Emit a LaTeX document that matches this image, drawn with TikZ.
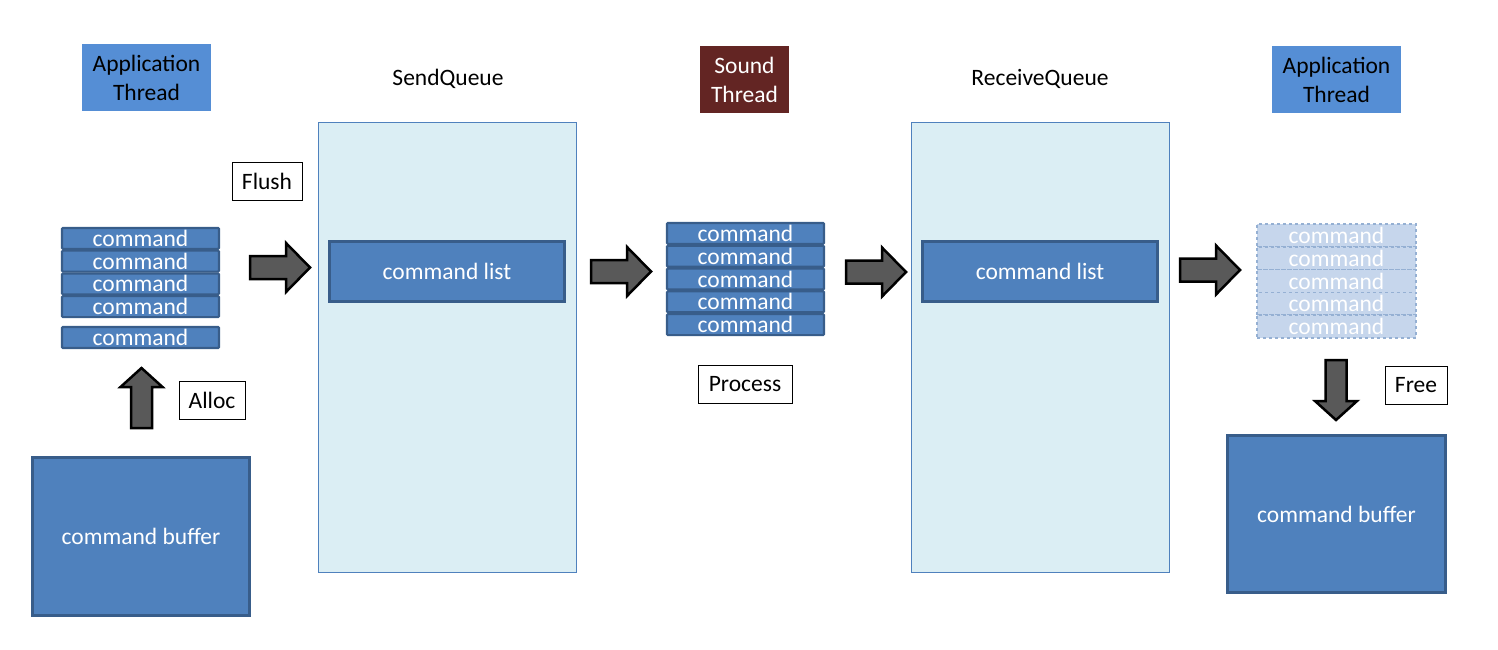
\documentclass[tikz,border=0pt]{standalone}
\usepackage{fontspec}
\newfontfamily\calfont{Carlito}
\definecolor{cmdblue}{HTML}{4F81BD}
\definecolor{cmdborder}{HTML}{385D8A}
\definecolor{appblue}{HTML}{558ED5}
\definecolor{soundred}{HTML}{632523}
\definecolor{queuefill}{HTML}{DBEEF4}
\definecolor{ghostfill}{HTML}{C6D6EC}
\definecolor{ghostline}{HTML}{95B0D3}
\definecolor{arrowgray}{HTML}{595959}
\tikzset{
  txt/.style={font=\calfont\fontsize{23.5}{29}\selectfont, align=center, inner sep=0pt},
  cmdrow/.style={txt, draw=cmdborder, line width=2.2pt, fill=cmdblue, text=white, minimum width=157pt, minimum height=21pt, rounded corners=1pt},
  ghostrow/.style={txt, draw=ghostline, line width=1.5pt, dashed, fill=ghostfill, text=white, minimum width=159pt, minimum height=22.8pt},
  bigbox/.style={txt, draw=cmdborder, line width=2.2pt, fill=cmdblue, text=white},
  queue/.style={draw=cmdblue, line width=0.8pt, fill=queuefill, minimum width=258pt, minimum height=450pt, inner sep=0pt},
  label/.style={txt, draw=black, line width=0.8pt, fill=white, minimum height=38pt, inner xsep=6pt},
  thread/.style={txt, minimum width=129pt, minimum height=67pt},
  arrowstyle/.style={draw=black, line width=2.5pt, fill=arrowgray, line join=miter},
  harrow/.pic={\path[arrowstyle] (-30,-11.5) -- (6,-11.5) -- (6,-24.5) -- (30,0) -- (6,24.5) -- (6,11.5) -- (-30,11.5) -- cycle;},
  varrow/.pic={\path[arrowstyle] (-30,-10.5) -- (11,-10.5) -- (11,-21) -- (30,0) -- (11,21) -- (11,10.5) -- (-30,10.5) -- cycle;},
}
\begin{document}
\begin{tikzpicture}[x=1pt,y=-1pt]
\useasboundingbox (0,0) rectangle (1498,649);

% threads
\node[thread, fill=appblue, text=black] (app1) at (146.5,77.5) {Application\\Thread};
\node[thread, fill=soundred, text=white, minimum width=89pt] (snd) at (744.5,79.5) {Sound\\Thread};
\node[thread, fill=appblue, text=black] (app2) at (1336.5,79.5) {Application\\Thread};

% queue labels
\node[txt] (sql) at (448,79) {SendQueue};
\node[txt] (rql) at (1040,79) {ReceiveQueue};

% queues
\node[queue] (sq) at (447,347) {};
\node[queue] (rq) at (1040,347) {};
\node[bigbox, minimum width=235pt, minimum height=60pt] (sl) at (447,271.5) {command list};
\node[bigbox, minimum width=235pt, minimum height=60pt] (rl) at (1040,271.5) {command list};

% left stack
\node[cmdrow] (l1) at (140.5,238.4) {command};
\node[cmdrow] (l2) at (140.5,261.1) {command};
\node[cmdrow] (l3) at (140.5,283.9) {command};
\node[cmdrow] (l4) at (140.5,306.6) {command};
\node[cmdrow] (l5) at (140.5,337.5) {command};

% middle stack
\node[cmdrow] (m1) at (745.5,233.4) {command};
\node[cmdrow] (m2) at (745.5,256.2) {command};
\node[cmdrow] (m3) at (745.5,279.0) {command};
\node[cmdrow] (m4) at (745.5,301.8) {command};
\node[cmdrow] (m5) at (745.5,324.6) {command};

% right ghost stack
\node[ghostrow] (g1) at (1336.5,235.4) {command};
\node[ghostrow] (g2) at (1336.5,258.2) {command};
\node[ghostrow] (g3) at (1336.5,281.0) {command};
\node[ghostrow] (g4) at (1336.5,303.8) {command};
\node[ghostrow] (g5) at (1336.5,326.6) {command};

% command buffers
\node[bigbox, minimum width=217pt, minimum height=158pt] (cb1) at (141,536.5) {command buffer};
\node[bigbox, minimum width=218pt, minimum height=157pt] (cb2) at (1336.5,514) {command buffer};

% labels
\node[label, minimum width=70pt] (flush) at (267,181.5) {Flush};
\node[label, minimum width=66pt] (alloc) at (212,400) {Alloc};
\node[label, minimum width=94pt] (proc) at (745,384.5) {Process};
\node[label, minimum width=62pt] (free) at (1416,385) {Free};

% block arrows
\pic at (280,267.5) {harrow};
\pic at (621,271.5) {harrow};
\pic at (876,272) {harrow};
\pic at (1210,270) {harrow};
\pic[rotate=90] at (141.5,398) {varrow};
\pic[rotate=-90] at (1336,390) {varrow};
\end{tikzpicture}
\end{document}
